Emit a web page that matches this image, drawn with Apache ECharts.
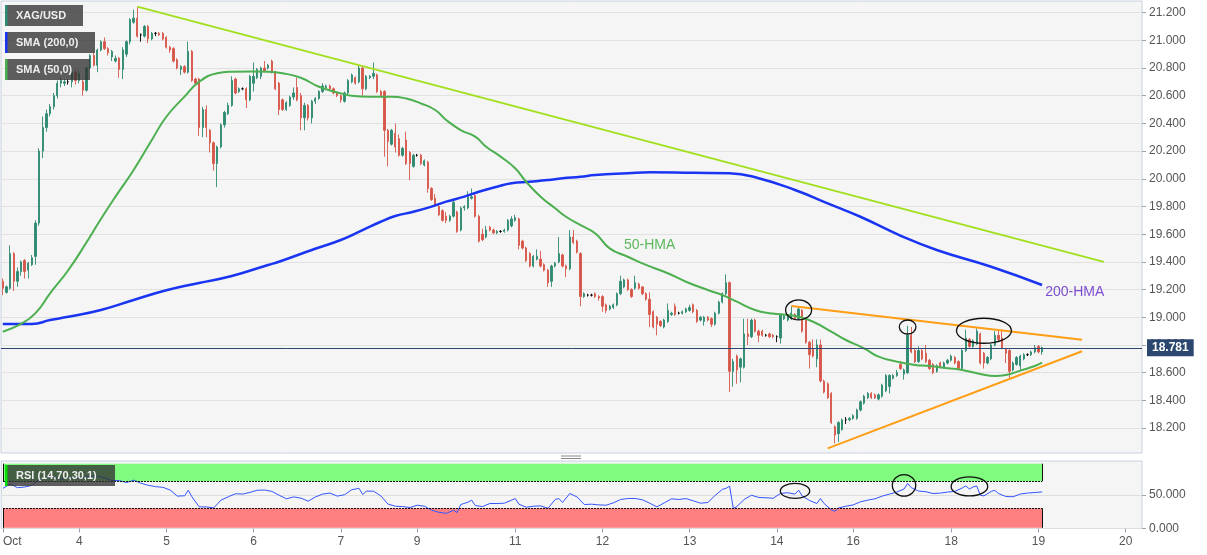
<!DOCTYPE html>
<html><head><meta charset="utf-8">
<script src="https://cdn.jsdelivr.net/npm/echarts@6/dist/echarts.min.js"></script>
<style>html,body{margin:0;padding:0;background:#fff}#c{width:1207px;height:555px}</style>
</head><body><div id="c"></div>
<script>
// ---------- DATA ----------
// trading sessions: [day label, first hour, number of hourly candles]
const sessions = [
  ['Oct',3,21],['4',0,24],['5',0,24],['6',0,24],['7',0,21],
  ['9',21,3],['10',0,24],['11',0,24],['12',0,24],['13',0,24],
  ['14',0,21],['16',21,3],['17',0,24],['18',0,24],['19',0,24],['20',0,5]
];
const shownDayLabels = ['Oct','4','5','6','7','9','11','12','13','14','16','18','19','20'];
const priceTicks = [18.2,18.4,18.6,18.8,19.0,19.2,19.4,19.6,19.8,20.0,20.2,20.4,20.6,20.8,21.0,21.2];
const rsiTicks = [0,50];
const rsiLevels = [30,70];
const lastPrice = 18.781;

// hourly candles [open, close, low, high]
const oct03 = [
[19.26,19.21,19.16,19.28],[19.18,19.22,19.17,19.23],[19.21,19.46,19.20,19.52],[19.46,19.26,19.19,19.47],
[19.26,19.33,19.22,19.36],[19.33,19.40,19.30,19.41],[19.41,19.33,19.28,19.42],[19.34,19.39,19.28,19.40],
[19.38,19.43,19.37,19.45],[19.44,19.68,19.38,19.70],[19.68,20.20,19.66,20.22],[20.20,20.37,20.15,20.45],
[20.37,20.47,20.34,20.50],[20.47,20.52,20.45,20.54],[20.52,20.60,20.50,20.62],[20.60,20.69,20.58,20.71],
[20.69,20.71,20.66,20.73],[20.69,20.70,20.67,20.72],[20.70,20.70,20.68,20.72],[20.70,20.77,20.66,20.80],
[20.77,20.71,20.68,20.79]];
const oct04 = [
[20.71,20.76,20.69,20.78],[20.70,20.64,20.60,20.72],[20.64,20.80,20.63,20.81],[20.80,20.89,20.79,20.90],
[20.89,20.82,20.81,20.91],[20.82,20.93,20.77,20.94],[20.93,20.99,20.92,21.00],[20.99,20.94,20.93,21.02],
[20.94,20.91,20.89,20.95],[20.88,20.92,20.85,20.93],[20.85,20.87,20.84,20.89],[20.87,20.79,20.73,20.88],
[20.79,20.93,20.72,20.95],[20.90,20.99,20.88,21.00],[20.99,21.15,20.97,21.16],[21.13,21.16,21.12,21.22],
[21.16,21.03,21.02,21.24],[21.04,21.04,20.99,21.05],[21.03,21.10,21.02,21.11],[21.10,21.01,20.98,21.11],
[21.01,21.05,21.00,21.06],[21.05,21.05,21.03,21.06],[21.05,21.04,21.03,21.06],[21.05,21.01,21.00,21.06]];
const oct05 = [
[21.02,20.95,20.94,21.03],[20.95,20.93,20.91,20.96],[20.94,20.85,20.84,20.95],[20.86,20.80,20.79,20.87],
[20.79,20.81,20.75,20.82],[20.81,20.77,20.76,20.82],[20.77,20.92,20.76,20.99],[20.92,20.71,20.70,20.93],
[20.72,20.69,20.68,20.73],[20.72,20.37,20.31,20.73],[20.37,20.50,20.30,20.52],[20.50,20.37,20.30,20.53],
[20.35,20.26,20.19,20.36],[20.26,20.11,20.06,20.27],[20.11,20.23,19.94,20.24],[20.23,20.39,20.22,20.40],
[20.39,20.48,20.37,20.49],[20.47,20.53,20.46,20.55],[20.53,20.71,20.52,20.74],[20.72,20.62,20.61,20.73],
[20.63,20.65,20.62,20.66],[20.65,20.65,20.64,20.66],[20.65,20.57,20.51,20.66],[20.57,20.74,20.56,20.75]];
const oct06 = [
[20.69,20.74,20.63,20.84],[20.73,20.79,20.72,20.80],[20.74,20.80,20.72,20.81],[20.80,20.78,20.77,20.85],
[20.80,20.82,20.79,20.83],[20.85,20.77,20.76,20.86],[20.77,20.65,20.64,20.78],[20.69,20.50,20.46,20.70],
[20.57,20.50,20.49,20.58],[20.50,20.55,20.49,20.56],[20.53,20.59,20.52,20.60],[20.59,20.62,20.57,20.66],
[20.66,20.57,20.56,20.73],[20.60,20.44,20.35,20.62],[20.44,20.53,20.35,20.55],[20.53,20.44,20.42,20.54],
[20.44,20.56,20.40,20.57],[20.56,20.58,20.54,20.59],[20.58,20.63,20.57,20.64],[20.63,20.67,20.62,20.69],
[20.66,20.67,20.65,20.68],[20.67,20.65,20.64,20.68],[20.65,20.62,20.61,20.66],[20.62,20.60,20.59,20.63]];
const oct07 = [
[20.60,20.57,20.55,20.61],[20.56,20.62,20.55,20.63],[20.62,20.71,20.60,20.72],[20.70,20.75,20.69,20.76],
[20.73,20.69,20.68,20.74],[20.70,20.80,20.69,20.82],[20.80,20.65,20.60,20.81],[20.65,20.74,20.64,20.75],
[20.73,20.74,20.72,20.75],[20.74,20.76,20.72,20.84],[20.75,20.63,20.62,20.76],[20.63,20.60,20.59,20.64],
[20.63,20.35,20.16,20.64],[20.35,20.27,20.09,20.36],[20.25,20.35,20.24,20.36],[20.33,20.23,20.19,20.40],
[20.29,20.17,20.16,20.32],[20.17,20.22,20.16,20.23],[20.28,20.11,20.10,20.34],[20.19,20.11,19.99,20.20],
[20.09,20.17,20.08,20.18]];
const oct09 = [
[20.17,20.17,20.16,20.18],[20.17,20.11,20.10,20.18],[20.10,20.13,20.09,20.14]];
const oct10 = [
[20.12,19.93,19.90,20.13],[19.93,19.85,19.84,19.94],[19.86,19.81,19.80,19.89],[19.80,19.74,19.73,19.81],
[19.77,19.70,19.69,19.78],[19.73,19.70,19.68,19.76],[19.70,19.73,19.69,19.74],[19.73,19.83,19.72,19.86],
[19.76,19.62,19.61,19.77],[19.63,19.79,19.62,19.80],[19.79,19.80,19.77,19.81],[19.79,19.87,19.78,19.91],
[19.86,19.87,19.85,19.93],[19.88,19.73,19.72,19.89],[19.73,19.55,19.54,19.74],[19.60,19.56,19.55,19.64],
[19.58,19.63,19.57,19.66],[19.65,19.63,19.62,19.66],[19.63,19.61,19.60,19.64],[19.61,19.62,19.60,19.63],
[19.62,19.62,19.61,19.63],[19.62,19.63,19.61,19.64],[19.63,19.70,19.62,19.71],[19.66,19.71,19.65,19.73]];
const oct11 = [
[19.70,19.72,19.69,19.74],[19.71,19.52,19.49,19.72],[19.55,19.50,19.49,19.56],[19.50,19.41,19.40,19.51],
[19.46,19.37,19.36,19.47],[19.37,19.44,19.36,19.45],[19.42,19.44,19.41,19.49],[19.42,19.37,19.36,19.48],
[19.38,19.34,19.33,19.39],[19.34,19.25,19.22,19.35],[19.26,19.37,19.22,19.38],[19.37,19.39,19.36,19.40],
[19.40,19.46,19.39,19.58],[19.45,19.37,19.36,19.46],[19.37,19.35,19.29,19.38],[19.35,19.58,19.34,19.63],
[19.58,19.54,19.53,19.63],[19.55,19.47,19.46,19.56],[19.46,19.15,19.08,19.47],[19.15,19.17,19.14,19.18],
[19.16,19.16,19.15,19.17],[19.16,19.16,19.15,19.17],[19.17,19.15,19.14,19.18],[19.15,19.14,19.12,19.16]];
const oct12 = [
[19.15,19.08,19.04,19.16],[19.09,19.05,19.03,19.10],[19.06,19.08,19.05,19.09],[19.07,19.09,19.06,19.10],
[19.09,19.17,19.08,19.18],[19.17,19.26,19.16,19.30],[19.22,19.27,19.21,19.28],[19.27,19.20,19.19,19.28],
[19.20,19.15,19.14,19.21],[19.21,19.25,19.20,19.30],[19.24,19.21,19.20,19.25],[19.22,19.17,19.16,19.22],
[19.17,19.13,19.12,19.18],[19.13,19.02,18.93,19.18],[19.04,18.93,18.92,19.05],[19.00,18.95,18.87,19.01],
[18.97,18.94,18.93,18.98],[18.93,18.98,18.92,18.99],[18.97,19.05,18.96,19.10],[19.02,19.03,19.01,19.04],
[19.08,19.02,19.01,19.10],[19.03,19.03,19.02,19.04],[19.03,19.04,19.02,19.05],[19.04,19.06,19.03,19.07]];
const oct13 = [
[19.05,19.07,19.04,19.09],[19.09,19.04,19.03,19.10],[19.05,18.97,18.96,19.06],[18.98,19.00,18.97,19.01],
[18.97,19.00,18.94,19.01],[19.00,18.98,18.97,19.01],[18.99,18.95,18.93,19.00],[18.95,19.03,18.94,19.04],
[19.03,19.11,19.02,19.12],[19.11,19.17,19.10,19.18],[19.17,19.25,19.16,19.31],[19.25,18.61,18.46,19.26],
[18.61,18.68,18.50,18.70],[18.72,18.62,18.52,18.73],[18.64,18.70,18.53,18.71],[18.64,18.88,18.63,18.99],
[18.88,18.86,18.80,18.99],[18.86,18.98,18.85,18.99],[18.98,18.90,18.89,18.99],[18.90,18.87,18.82,18.91],
[18.90,18.87,18.86,18.91],[18.87,18.87,18.86,18.88],[18.88,18.86,18.85,18.89],[18.87,18.86,18.85,18.88]];
const oct14 = [
[18.86,18.86,18.82,18.87],[18.85,19.02,18.81,19.03],[18.99,19.01,18.98,19.02],[18.98,19.00,18.97,19.01],
[18.99,19.03,18.98,19.08],[19.02,18.99,18.98,19.03],[18.99,19.06,18.98,19.07],[19.05,18.90,18.89,19.06],
[18.98,18.82,18.81,18.99],[18.82,18.73,18.63,18.83],[18.77,18.72,18.71,18.84],[18.70,18.80,18.64,18.84],
[18.80,18.54,18.53,18.84],[18.54,18.46,18.45,18.55],[18.52,18.42,18.41,18.53],[18.45,18.24,18.23,18.46],
[18.21,18.15,18.09,18.22],[18.16,18.24,18.10,18.25],[18.19,18.26,18.18,18.27],[18.26,18.26,18.23,18.28],
[18.26,18.27,18.25,18.28]];
const oct16 = [
[18.27,18.29,18.26,18.30],[18.27,18.33,18.26,18.34],[18.33,18.39,18.32,18.40]];
const oct17 = [
[18.38,18.43,18.37,18.44],[18.42,18.45,18.41,18.46],[18.45,18.42,18.41,18.46],[18.44,18.42,18.41,18.45],
[18.41,18.44,18.40,18.45],[18.43,18.51,18.42,18.52],[18.47,18.58,18.46,18.59],[18.50,18.58,18.45,18.59],
[18.56,18.58,18.55,18.59],[18.58,18.60,18.57,18.62],[18.66,18.63,18.62,18.68],[18.59,18.62,18.55,18.63],
[18.60,18.87,18.59,18.94],[18.87,18.75,18.74,18.93],[18.76,18.68,18.67,18.77],[18.68,18.76,18.67,18.79],
[18.76,18.70,18.69,18.77],[18.74,18.68,18.67,18.80],[18.69,18.63,18.62,18.70],[18.66,18.60,18.59,18.67],
[18.61,18.65,18.60,18.66],[18.67,18.64,18.63,18.68],[18.64,18.67,18.63,18.68],[18.67,18.69,18.66,18.70]];
const oct18 = [
[18.69,18.72,18.68,18.73],[18.71,18.67,18.66,18.72],[18.68,18.63,18.62,18.69],[18.63,18.76,18.62,18.77],
[18.76,18.85,18.75,18.91],[18.84,18.79,18.78,18.85],[18.79,18.83,18.78,18.84],[18.81,18.90,18.80,18.92],
[18.88,18.67,18.66,18.89],[18.74,18.67,18.63,18.75],[18.67,18.71,18.66,18.72],[18.70,18.80,18.69,18.81],
[18.80,18.87,18.79,18.90],[18.87,18.84,18.83,18.91],[18.85,18.78,18.77,18.91],[18.77,18.74,18.67,18.78],
[18.76,18.61,18.55,18.77],[18.62,18.67,18.61,18.68],[18.66,18.71,18.65,18.72],[18.65,18.72,18.62,18.73],
[18.70,18.73,18.69,18.74],[18.73,18.73,18.72,18.74],[18.73,18.75,18.72,18.76],[18.75,18.78,18.74,18.80]];
const oct19 = [
[18.79,18.75,18.74,18.80],[18.75,18.781,18.73,18.79]];

// indicator lines: [candle index, value]
const sma200 = [[0,18.952],[8,18.952],[13,18.98],[18,19.004],[27,19.053],[36,19.125],[45,19.195],[54,19.248],
[63,19.298],[73,19.378],[76,19.401],[85,19.486],[93,19.558],[99,19.63],[104,19.69],[108,19.731],[113,19.762],
[118,19.799],[122,19.835],[127,19.871],[131,19.907],[136,19.943],[140,19.968],[145,19.979],[150,19.991],
[154,20.004],[159,20.015],[163,20.027],[172,20.04],[178,20.047],[190,20.043],[200,20.04],[208,20.004],
[218,19.919],[227,19.823],[236,19.726],[247,19.59],[257,19.486],[272,19.365],[286,19.233]];
const sma50 = [[0,18.896],[5,18.952],[9,19.03],[13,19.173],[18,19.34],[23,19.54],[27,19.71],[31,19.871],
[36,20.064],[41,20.28],[45,20.448],[50,20.593],[54,20.70],[59,20.762],[63,20.773],[68,20.775],[73,20.773],
[77,20.762],[82,20.73],[87,20.665],[93,20.617],[96,20.60],[101,20.593],[107,20.593],[111,20.58],[115,20.545],
[119,20.497],[122,20.425],[126,20.352],[130,20.304],[133,20.232],[137,20.16],[141,20.076],[144,19.979],
[148,19.871],[152,19.787],[155,19.726],[159,19.665],[163,19.607],[167,19.498],[172,19.437],[177,19.378],
[183,19.318],[188,19.257],[194,19.197],[198,19.161],[202,19.113],[207,19.053],[211,19.029],[216,19.017],
[219,19.004],[223,18.968],[228,18.896],[232,18.836],[237,18.776],[241,18.716],[246,18.68],[251,18.656],
[255,18.648],[260,18.632],[264,18.62],[269,18.591],[273,18.576],[276,18.583],[280,18.615],[284,18.648],[286,18.672]];
const rsi = [[0,59.5],[2,66],[4,60.5],[6,61.5],[8,64],[10,73],[12,75],[14,76],[16,73],[18,75],[20,74],[22,76],
[24,77],[26,78],[28,75],[30,71],[32,71],[34,68],[36,71.6],[38,67],[40,64],[42,62],[44,61],[46,57],[48,48],
[50,48.5],[51,56.7],[52,47],[54,32],[56,32],[58,30.5],[60,42],[62,47],[64,51.5],[66,51],[68,53.5],[70,56.7],
[72,57],[74,55],[76,49.3],[78,44],[80,46.8],[82,45],[84,40.5],[86,46.8],[88,51],[90,52.5],[92,48],[94,50],
[96,57.5],[98,59.5],[99,50.4],[100,55.3],[102,55.3],[104,48.3],[106,36],[108,33],[110,32.5],[112,31.1],
[114,34.5],[116,33],[118,27.1],[120,24],[122,22.5],[124,27],[125,23.7],[126,35.5],[128,39],[129,42],[130,34],
[132,32.5],[134,37],[136,37],[138,37.5],[140,42],[141,44.4],[142,36],[144,31.5],[146,33],[148,33.5],[150,30],
[152,43],[153,44.4],[154,38.5],[156,51.8],[158,46.8],[160,35.5],[162,36],[164,35],[166,34.5],[168,38],
[170,43],[172,44.4],[174,44.5],[176,42.5],[178,37.5],[180,32],[182,38],[184,44],[186,43],[188,44.3],[190,41],
[192,37.5],[194,38.5],[196,49],[198,58],[199,59.5],[200,62.7],[201,29.6],[202,32.5],[204,43],[206,49.3],
[208,46],[210,45.5],[212,44.8],[214,52],[216,53],[218,51],[219,56.7],[220,48],[222,41.5],[224,37],[225,44.4],
[226,37],[228,27.5],[229,25.6],[230,30.5],[232,33],[234,35],[236,39.5],[238,42],[240,44],[242,48],[244,51],
[246,54],[248,58.5],[249,66.7],[250,60.5],[252,55.5],[254,54.5],[256,51.8],[258,52.5],[260,54],[262,55],
[264,60],[265,63.1],[266,58.5],[267,61.5],[268,63.1],[269,49.3],[270,48.3],[272,55],[273,56.5],[274,51.8],
[276,47.5],[278,47],[280,51],[282,52.5],[284,53.3],[286,54.2]];

// drawn trend lines: [[index, price], [index, price]]
const trendDown = [[37,21.243],[303,19.40]];
const triangleTop = [[217,19.082],[297,18.838]];
const triangleBottom = [[227,18.054],[297,18.755]];
// annotation circle centres [index, value]
const priceCircles = [[218.8,19.053],[249.2,18.93],[269.8,18.903]];
const rsiCircles = [[218.4,55.6],[248.3,63.9],[266.3,62.4]];
const labelHMA50 = [178,19.518];
const labelHMA200 = [295,19.183];

// ---------- BUILD ----------
const dayCandles = {'Oct':oct03,'4':oct04,'5':oct05,'6':oct06,'7':oct07,'9':oct09,'10':oct10,'11':oct11,
  '12':oct12,'13':oct13,'14':oct14,'16':oct16,'17':oct17,'18':oct18,'19':oct19};
const categories = [], labelAt = {}, candles = [];
sessions.forEach(([lab,h0,n]) => {
  const start = categories.length;
  if (shownDayLabels.includes(lab)) labelAt[start] = lab;
  const rows = dayCandles[lab] || [];
  for (let k=0;k<n;k++){
    categories.push(lab+' '+String(h0+k).padStart(2,'0')+':00');
    if (rows[k]) candles.push(rows[k]);
  }
});
const lastIdx = candles.length - 1;

const FONT = '"Liberation Sans", Arial, sans-serif';
const chart = echarts.init(document.getElementById('c'), null, {renderer:'canvas'});
const lineS = (data,color,width,smooth) => ({type:'line',xAxisIndex:0,yAxisIndex:0,data,symbol:'none',smooth:smooth,
  lineStyle:{color,width},itemStyle:{color},silent:true,z:3});
const option = {
  animation:false,
  backgroundColor:'#ffffff',
  textStyle:{fontFamily:FONT},
  grid:[
    {left:1,right:65,top:1,height:452,show:true,backgroundColor:'#f5f5f5',borderColor:'#c9d0df',borderWidth:1},
    {left:1,right:65,top:461,height:67.5,show:true,backgroundColor:'#f5f5f5',borderColor:'#c9d0df',borderWidth:1}
  ],
  xAxis:[
    {type:'category',gridIndex:0,data:categories,boundaryGap:true,axisLine:{show:false},axisTick:{show:false},
     axisLabel:{show:false},splitLine:{show:false}},
    {type:'category',gridIndex:1,data:categories,boundaryGap:true,axisLine:{show:false},
     axisTick:{show:true,alignWithLabel:true,interval:(i)=>labelAt[i]!==undefined,length:4,lineStyle:{color:'#9aa3b5'}},
     axisLabel:{show:true,interval:(i)=>labelAt[i]!==undefined,formatter:(v,i)=>labelAt[i]||'',color:'#555',
       fontSize:12,margin:7,alignMinLabel:'left'},
     splitLine:{show:false}}
  ],
  yAxis:[
    {type:'value',gridIndex:0,position:'right',min:18.0202,max:21.2838,axisLine:{show:false},
     axisTick:{show:true,customValues:priceTicks,length:4,lineStyle:{color:'#9aa3b5'}},
     axisLabel:{customValues:priceTicks,formatter:(v)=>v.toFixed(3),color:'#555',fontSize:12,margin:7},
     splitLine:{show:true,lineStyle:{color:'#e1e1e1',width:1}}},
    {type:'value',gridIndex:1,position:'right',min:0,max:100,axisLine:{show:false},
     axisTick:{show:true,customValues:rsiTicks,length:4,lineStyle:{color:'#9aa3b5'}},
     axisLabel:{customValues:rsiTicks,formatter:(v)=>v.toFixed(3),color:'#555',fontSize:12,margin:7},
     splitLine:{show:true,lineStyle:{color:'#dedede',width:1}}}
  ],
  series:[
    {type:'candlestick',xAxisIndex:0,yAxisIndex:0,data:candles,barWidth:1.8,z:2,
     itemStyle:{color:'#2f8a72',color0:'#d6574a',borderColor:'#2f8a72',borderColor0:'#d6574a',borderColorDoji:'#000',borderWidth:0.9},
     markLine:{silent:true,symbol:['none','none'],animation:false,
       data:[{yAxis:lastPrice}],
       lineStyle:{color:'#2b4770',width:1,type:'solid'},
       label:{show:true,position:'end',formatter:lastPrice.toFixed(3),backgroundColor:'#2b4770',color:'#fff',
         fontWeight:'bold',fontSize:12,padding:[3,5,2,5],distance:5,fontFamily:FONT}}},
    lineS(sma200,'#1a35f2',2.5,true),
    lineS(sma50,'#4caf50',2,true),
    lineS(trendDown,'#a2e01e',2,false),
    lineS(triangleTop,'#ff9d14',2,false),
    lineS(triangleBottom,'#ff9d14',2,false),
    {type:'line',xAxisIndex:1,yAxisIndex:1,data:rsi,symbol:'none',silent:true,z:4,
     lineStyle:{color:'#3355ff',width:1},itemStyle:{color:'#3355ff'},
     markArea:{silent:true,data:[
       [{xAxis:0,yAxis:rsiLevels[1],itemStyle:{color:'#80fb80'}},{xAxis:lastIdx,yAxis:96}],
       [{xAxis:0,yAxis:1,itemStyle:{color:'#ff8080'}},{xAxis:lastIdx,yAxis:rsiLevels[0]}]
     ],itemStyle:{borderWidth:0}},
     markLine:{silent:true,symbol:['none','none'],label:{show:false},
       data:[
         [{xAxis:0,yAxis:rsiLevels[1],lineStyle:{type:[2,1]}},{xAxis:lastIdx,yAxis:rsiLevels[1]}],
         [{xAxis:0,yAxis:rsiLevels[0],lineStyle:{type:[2,1]}},{xAxis:lastIdx,yAxis:rsiLevels[0]}],
         [{xAxis:lastIdx,yAxis:rsiLevels[1]},{xAxis:lastIdx,yAxis:96}],
         [{xAxis:lastIdx,yAxis:1},{xAxis:lastIdx,yAxis:rsiLevels[0]}],
         [{xAxis:0,yAxis:rsiLevels[1]},{xAxis:0,yAxis:96}],
         [{xAxis:0,yAxis:1},{xAxis:0,yAxis:rsiLevels[0]}]
       ],
       lineStyle:{color:'#111',width:1,type:'solid'}}}
  ]
};
chart.setOption(option);

// ---------- ANNOTATIONS ----------
const P = (g,pt) => chart.convertToPixel({gridIndex:g}, pt);
const priceRadii = [[13,10],[8.3,7],[27.5,12.5]];
const rsiRadii = [[14.7,7.5],[11.7,10.8],[18.3,9.5]];
const g = [];
priceCircles.forEach((c,i)=>{const [cx,cy]=P(0,c);g.push({type:'ellipse',z:60,silent:true,
  shape:{cx,cy,rx:priceRadii[i][0],ry:priceRadii[i][1]},style:{fill:'none',stroke:'#111',lineWidth:1.3}});});
rsiCircles.forEach((c,i)=>{const [cx,cy]=P(1,c);g.push({type:'ellipse',z:60,silent:true,
  shape:{cx,cy,rx:rsiRadii[i][0],ry:rsiRadii[i][1]},style:{fill:'none',stroke:'#111',lineWidth:1.3}});});
const t50 = P(0,labelHMA50), t200 = P(0,labelHMA200);
g.push({type:'text',z:60,silent:true,style:{text:'50-HMA',x:t50[0],y:t50[1],align:'center',verticalAlign:'middle',
  fill:'#5cb85c',font:'14px '+FONT}});
g.push({type:'text',z:60,silent:true,style:{text:'200-HMA',x:t200[0],y:t200[1],align:'center',verticalAlign:'middle',
  fill:'#7d4fd0',font:'14px '+FONT}});
// legend boxes
const box = (y,w,bar,text) => {
  g.push({type:'rect',z:70,silent:true,shape:{x:5,y:y,width:w,height:21},style:{fill:'rgba(50,50,50,0.78)'}});
  g.push({type:'rect',z:71,silent:true,shape:{x:5,y:y,width:2.5,height:21},style:{fill:bar}});
  g.push({type:'text',z:72,silent:true,style:{text,x:16,y:y+10.5,verticalAlign:'middle',fill:'#eeeeee',
    font:'bold 11px '+FONT}});
};
box(5,78,'#2f8a72','XAG/USD');
box(32,90,'#1a35f2','SMA (200,0)');
box(59,85,'#4caf50','SMA (50,0)');
box(465,110,'#00dd00','RSI (14,70,30,1)');
// pane splitter handle
g.push({type:'line',z:60,silent:true,shape:{x1:561,y1:456,x2:581,y2:456},style:{stroke:'#888',lineWidth:1}});
g.push({type:'line',z:60,silent:true,shape:{x1:561,y1:458.5,x2:581,y2:458.5},style:{stroke:'#888',lineWidth:1}});
chart.setOption({graphic:{elements:g}});
</script>
</body></html>
